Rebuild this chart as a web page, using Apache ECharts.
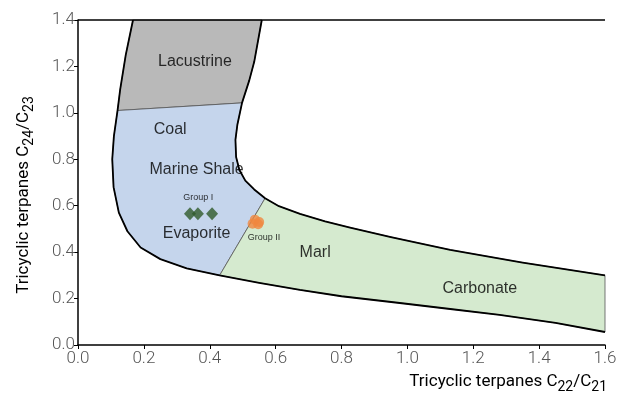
<!DOCTYPE html>
<html><head><meta charset="utf-8">
<script src="https://cdn.jsdelivr.net/npm/echarts@6/dist/echarts.min.js"></script>
<style>html,body{margin:0;padding:0;background:#fff}#c{width:617px;height:408px}</style>
</head><body><div id="c"></div>
<script>
var xTicks=[0,0.2,0.4,0.6,0.8,1.0,1.2,1.4,1.6];
var outerCurve=[[0.167,1.4],[0.145,1.25],[0.128,1.1],[0.12,1.01],[0.109,0.9],[0.104,0.8],[0.108,0.68],[0.124,0.57],[0.15,0.49],[0.19,0.42],[0.25,0.37],[0.33,0.33],[0.43,0.30],[0.55,0.268],[0.674,0.237],[0.8,0.21],[0.977,0.181],[1.13,0.155],[1.28,0.13],[1.45,0.095],[1.6,0.056]];
var innerCurve=[[0.558,1.4],[0.535,1.22],[0.52,1.14],[0.498,1.043],[0.484,0.95],[0.478,0.884],[0.48,0.81],[0.49,0.754],[0.508,0.708],[0.535,0.67],[0.568,0.632],[0.61,0.598],[0.674,0.565],[0.75,0.533],[0.826,0.506],[0.95,0.465],[1.13,0.41],[1.35,0.355],[1.6,0.30]];
var groupI=[[0.34,0.565],[0.364,0.565],[0.407,0.565]];
var groupII=[[0.537,0.54],[0.547,0.52],[0.53,0.522],[0.55,0.53]];
var regionLabels=[
 {name:'Lacustrine',value:[0.355,1.22],size:16},
 {name:'Coal',value:[0.28,0.93],size:16},
 {name:'Marine Shale',value:[0.36,0.755],size:16},
 {name:'Evaporite',value:[0.36,0.48],size:16},
 {name:'Marl',value:[0.72,0.40],size:16},
 {name:'Carbonate',value:[1.22,0.245],size:16},
 {name:'Group I',value:[0.365,0.634],size:9},
 {name:'Group II',value:[0.565,0.462],size:9}
];
var oi=outerCurve.findIndex(function(p){return p[0]===0.12});
var oj=outerCurve.findIndex(function(p){return p[0]===0.43});
var ii=innerCurve.findIndex(function(p){return p[0]===0.498});
var ij=innerCurve.findIndex(function(p){return p[0]===0.568});
var lac=outerCurve.slice(0,oi+1).concat(innerCurve.slice(0,ii+1).reverse());
var blue=outerCurve.slice(oi,oj+1).concat(innerCurve.slice(ii,ij+1).reverse());
var green=outerCurve.slice(oj).concat(innerCurve.slice(ij).reverse());
function poly(pts,fill,stroke,lw,closed){
 return {type:'custom',silent:true,z:1,data:[0],renderItem:function(params,api){
  var p=pts.map(function(q){return api.coord(q)});
  return {type:closed?'polygon':'polyline',shape:{points:p},style:{fill:closed?fill:null,stroke:stroke,lineWidth:lw,lineJoin:'round'}};
 }};
}
var series=[
 poly(lac,'#b9b9b9','#555',0.8,true),
 poly(blue,'#c5d5ec','#555',0.8,true),
 poly(green,'#d5eacf','#555',0.8,true),
 poly(outerCurve,null,'#000',1.8,false),
 poly(innerCurve,null,'#000',1.8,false),
 {type:'scatter',data:groupI,symbol:'diamond',symbolSize:[12,13],itemStyle:{color:'#2f5a2a'},z:5},
 {type:'scatter',data:groupII,symbol:'circle',symbolSize:10,itemStyle:{color:'#f0873f'},z:5},
 {type:'scatter',symbolSize:0,z:6,data:regionLabels.map(function(d){return {value:d.value,label:{show:true,position:'inside',formatter:d.name,fontSize:d.size,color:'#000',fontFamily:'Liberation Sans'}}})}
];
var rich={a:{fontSize:17,color:'#333',fontFamily:'Roboto'},s:{fontSize:14,color:'#333',fontFamily:'Roboto',padding:[10,0,0,0]}};
var chart=echarts.init(document.getElementById('c'));
chart.setOption({
 animation:false,
 grid:{left:78,right:12,top:20,bottom:63,outerBoundsMode:'none',containLabel:false},
 xAxis:{type:'value',min:0,max:1.6,interval:0.2,
  axisLine:{show:true,lineStyle:{color:'#000',width:1.5}},
  axisTick:{show:true,length:4,lineStyle:{color:'#000'}},
  splitLine:{show:false},
  axisLabel:{color:'#555',fontSize:17,fontFamily:'Roboto',fontWeight:300,margin:5,formatter:function(v){return v.toFixed(1)}}
 },
 yAxis:{type:'value',min:0,max:1.4,interval:0.2,
  axisLine:{show:true,lineStyle:{color:'#000',width:1.5}},
  axisTick:{show:true,length:4,lineStyle:{color:'#000'}},
  splitLine:{show:false},
  axisLabel:{color:'#555',fontSize:17,fontFamily:'Roboto',fontWeight:300,margin:3,formatter:function(v){return v.toFixed(1)}}
 },
 graphic:[
  {type:'line',shape:{x1:78,y1:20,x2:605,y2:20},style:{stroke:'#000',lineWidth:1.5},z:10},
  {type:'text',x:607,y:370,style:{text:'{a|Tricyclic terpanes C}{s|22}{a|/C}{s|21}',rich:rich,align:'right',verticalAlign:'top'}},
  {type:'text',x:12,y:195,rotation:Math.PI/2,style:{text:'{a|Tricyclic terpanes C}{s|24}{a|/C}{s|23}',rich:rich,align:'center',verticalAlign:'top'}}
 ],
 series:series
});
</script></body></html>
